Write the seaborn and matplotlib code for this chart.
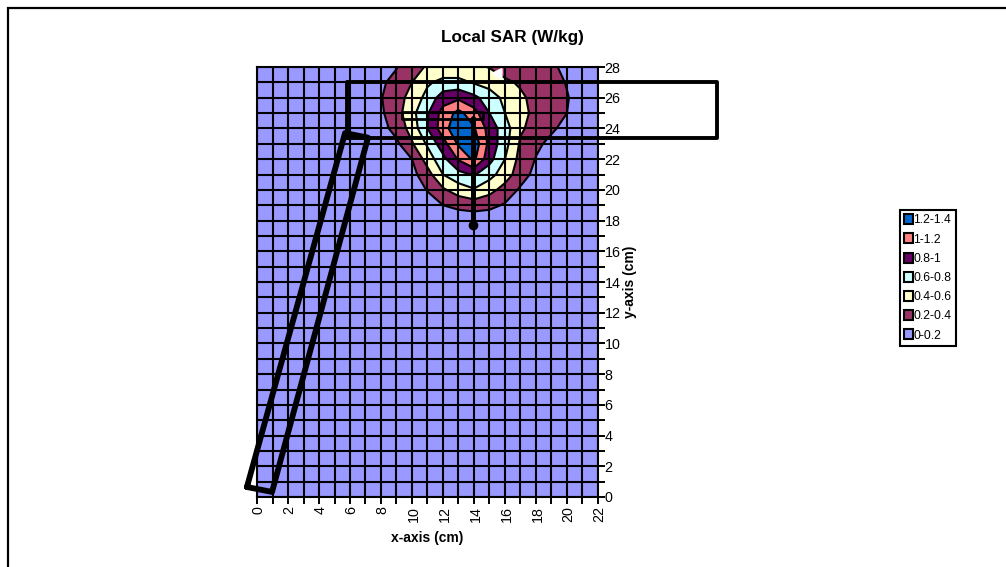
import numpy as np
import matplotlib
matplotlib.use('Agg')
import matplotlib.pyplot as plt
from matplotlib.patches import Patch, Rectangle
from matplotlib.transforms import ScaledTranslation
import seaborn as sns

# SAR readings per row, columns are x = 6..22 cm, everything else is background
sar_x = [6, 7, 8, 9, 10, 11, 12, 13, 14, 15, 16, 17, 18, 19, 20, 21, 22]
sar_y28 = [.08, .10, .13, .19, .33, .42, .45, .45, .45, .39, .30, .30, .26, .22, .17, .10, .05]
sar_y27 = [.08, .13, .17, .26, .40, .57, .66, .66, .58, .52, .44, .37, .31, .26, .19, .12, .06]
sar_y26 = [.07, .12, .19, .32, .47, .67, .90, .96, .85, .70, .55, .44, .33, .28, .21, .13, .07]
sar_y25 = [.06, .10, .17, .32, .54, .78, 1.08, 1.26, 1.08, .80, .60, .46, .35, .27, .20, .12, .06]
sar_y24 = [.05, .08, .13, .27, .48, .80, 1.11, 1.36, 1.22, .92, .69, .43, .32, .23, .14, .09, .05]
sar_y23 = [.05, .06, .09, .16, .38, .63, .92, 1.23, 1.33, .94, .67, .37, .24, .15, .10, .07, .05]
sar_y22 = [.04, .05, .07, .12, .20, .49, .74, 1.02, 1.24, .87, .60, .33, .19, .11, .08, .06, .04]
sar_y21 = [.04, .05, .06, .10, .14, .32, .60, .73, .82, .67, .50, .29, .14, .09, .07, .05, .04]
sar_y20 = [.04, .04, .05, .07, .10, .21, .37, .50, .58, .47, .32, .17, .10, .07, .05, .04, .04]
sar_y19 = [.04, .04, .05, .06, .08, .12, .20, .25, .29, .25, .18, .10, .07, .05, .04, .04, .04]
sar_y18 = [.04, .04, .04, .05, .06, .07, .08, .08, .07, .08, .07, .06, .05, .04, .04, .04, .04]
sar_background = 0.05

levels = [0, .2, .4, .6, .8, 1, 1.2, 1.4]
band_labels = ['0-0.2', '0.2-0.4', '0.4-0.6', '0.6-0.8', '0.8-1', '1-1.2', '1.2-1.4']
band_colors = ['#9999FF', '#993366', '#FFFFCC', '#CCFFFF', '#660066', '#FF8080', '#0066CC']

# antenna outline drawn on top of the plot, in cm
strip_x = [-0.65, 5.68, 7.16, 0.97, -0.65]
strip_y = [0.65, 23.7, 23.4, 0.33, 0.65]
ground_x = [5.8, 5.8, 29.7, 29.7, 5.8]
ground_y = [23.4, 27.0, 27.0, 23.4, 23.4]
patch_x = [14.6, 9.35, 9.35, 14.6, 14.6]
patch_y = [25.05, 25.05, 24.6, 24.6, 25.05]
stem_x = [13.95, 13.95]
stem_y = [24.7, 17.7]
hole_x = [15.8, 15.8, 15.2]
hole_y = [27.9, 27.15, 27.6]

sns.set_style('white')
plt.rcParams['font.family'] = ['Liberation Sans', 'DejaVu Sans']
plt.rcParams['text.color'] = 'black'
plt.rcParams['axes.labelcolor'] = 'black'
plt.rcParams['xtick.color'] = 'black'
plt.rcParams['ytick.color'] = 'black'

xs = np.arange(0, 23)
ys = np.arange(0, 29)
sar = np.full((29, 23), sar_background)
rows = {28: sar_y28, 27: sar_y27, 26: sar_y26, 25: sar_y25, 24: sar_y24, 23: sar_y23,
        22: sar_y22, 21: sar_y21, 20: sar_y20, 19: sar_y19, 18: sar_y18}
for y, row in rows.items():
    sar[y, sar_x] = row

fig = plt.figure(figsize=(10.06, 5.67), dpi=100)
ax = fig.add_axes([257 / 1006, 1 - 497 / 567, 341 / 1006, 430 / 567])

ax.contourf(xs, ys, sar, levels=levels, colors=band_colors, zorder=1)
ax.contour(xs, ys, sar, levels=levels[1:-1], colors='black', linewidths=1.5, zorder=1.5)
ax.fill(hole_x, hole_y, color='white', zorder=1.6)

ax.set_xlim(0, 22)
ax.set_ylim(0, 28)
ax.set_xticks(range(0, 23))
ax.set_yticks(range(0, 29))
ax.set_xticklabels([str(v) if v % 2 == 0 else '' for v in range(0, 23)], rotation=90, fontsize=10.3)
ax.set_yticklabels([str(v) if v % 2 == 0 else '' for v in range(0, 29)], fontsize=10.3)
ax.yaxis.tick_right()
ax.yaxis.set_label_position('right')
ax.tick_params(axis='both', length=4.7, width=1.4, color='black', left=False, bottom=True, right=True)
ax.tick_params(axis='y', pad=0)
ax.tick_params(axis='x', pad=2)
for lab in ax.get_xticklabels():
    lab.set_transform(lab.get_transform() + ScaledTranslation(1 / 72, 0, fig.dpi_scale_trans))
ax.grid(True, color='black', linewidth=1.5)
ax.set_axisbelow(False)
for side in ax.spines.values():
    side.set_color('black')
    side.set_linewidth(1.5)

ax.set_xlabel('x-axis (cm)', fontsize=10, fontweight='bold', labelpad=6)
ax.set_ylabel('y-axis (cm)', fontsize=10, fontweight='bold', labelpad=2, rotation=90)
ax.set_title('Local SAR (W/kg)', fontsize=12.3, fontweight='bold', x=(512 - 257) / 341, pad=18)

sns.lineplot(x=strip_x, y=strip_y, sort=False, estimator=None, color='black', linewidth=4.2,
             clip_on=False, ax=ax, zorder=5)
sns.lineplot(x=ground_x, y=ground_y, sort=False, estimator=None, color='black', linewidth=2.8,
             clip_on=False, ax=ax, zorder=5)
sns.lineplot(x=patch_x, y=patch_y, sort=False, estimator=None, color='black', linewidth=2,
             clip_on=False, ax=ax, zorder=5)
sns.lineplot(x=stem_x, y=stem_y, sort=False, estimator=None, color='black', linewidth=3.6,
             clip_on=False, ax=ax, zorder=5)
ax.plot(stem_x[-1:], stem_y[-1:], 'o', color='black', markersize=6, clip_on=False, zorder=5)

handles = [Patch(facecolor=c, edgecolor='black', linewidth=1.5, label=l)
           for c, l in zip(band_colors[::-1], band_labels[::-1])]
leg = fig.legend(handles=handles, loc='upper left', bbox_to_anchor=(900 / 1006, 1 - 210 / 567),
                 fontsize=8.7, frameon=True, fancybox=False, edgecolor='black', framealpha=1,
                 handlelength=0.7, handleheight=0.9, handletextpad=0.05, labelspacing=0.58,
                 borderpad=0.35, borderaxespad=0)
leg.get_frame().set_linewidth(1.5)

# page frame, runs off the right and bottom edges of the picture
fig.add_artist(Rectangle((8 / 1006, -0.05), 1.1, 1 - 8 / 567 + 0.05, transform=fig.transFigure,
                         fill=False, edgecolor='black', linewidth=1.6))

fig.savefig('out.png', dpi=100)
